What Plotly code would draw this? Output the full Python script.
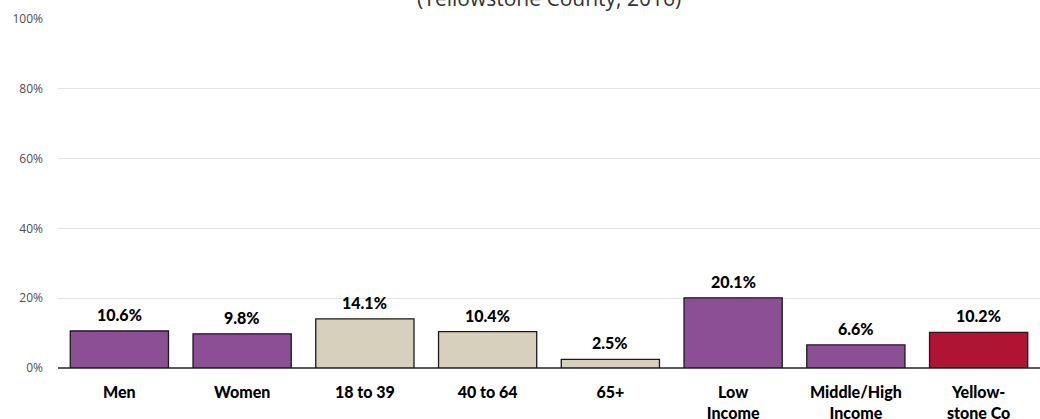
import plotly.graph_objects as go

categories = ["Men", "Women", "18 to 39", "40 to 64", "65+", "Low<br>Income", "Middle/High<br>Income", "Yellow-<br>stone Co"]
values = [10.6, 9.8, 14.1, 10.4, 2.5, 20.1, 6.6, 10.2]
colors = ["#8C4F96", "#8C4F96", "#D6D0BC", "#D6D0BC", "#D6D0BC", "#8C4F96", "#8C4F96", "#B01432"]
labels = ["10.6%", "9.8%", "14.1%", "10.4%", "2.5%", "20.1%", "6.6%", "10.2%"]
y_ticks = [0, 20, 40, 60, 80, 100]
y_tick_text = ["0%", "20%", "40%", "60%", "80%", "100%"]

LABEL_FONT = "Lato, Open Sans, sans-serif"

fig = go.Figure()
fig.add_trace(go.Bar(
    x=list(range(len(categories))),
    y=values,
    marker=dict(color=colors, line=dict(color="#1a1a1a", width=1.3)),
    hoverinfo="skip",
))

for i, (v, t) in enumerate(zip(values, labels)):
    fig.add_annotation(
        x=i, y=v, text=t, showarrow=False,
        yanchor="bottom", yshift=5,
        font=dict(family=LABEL_FONT, size=16, color="#000000", weight=900),
    )

fig.add_annotation(
    x=0.5, y=1, xref="paper", yref="paper", text="(Yellowstone County, 2016)",
    showarrow=False, yanchor="bottom", yshift=5,
    font=dict(family="Open Sans, sans-serif", size=21, color="#333333"),
)

fig.update_layout(
    template="none",
    width=1040, height=419,
    margin=dict(l=58, r=0, t=19, b=51, pad=0),
    paper_bgcolor="white", plot_bgcolor="white",
    bargap=0.2,
    showlegend=False,
)
fig.update_xaxes(
    tickmode="array", tickvals=list(range(len(categories))),
    ticktext=categories,
    range=[-0.5, len(categories) - 0.5],
    showgrid=False, zeroline=False, showline=False,
    ticks="", ticklabelstandoff=13,
    tickfont=dict(family=LABEL_FONT, size=16, color="#000000", weight=900),
)
fig.update_yaxes(
    range=[0, 100], tickmode="array", tickvals=y_ticks, ticktext=y_tick_text,
    showgrid=True, gridcolor="#e3e3e3", gridwidth=1,
    zeroline=True, zerolinecolor="#595959", zerolinewidth=2,
    showline=False, ticks="",
    tickfont=dict(family="Open Sans, sans-serif", size=12, color="#4d4d4d"),
    ticklabelstandoff=14,
)

fig.write_html("out.html")
